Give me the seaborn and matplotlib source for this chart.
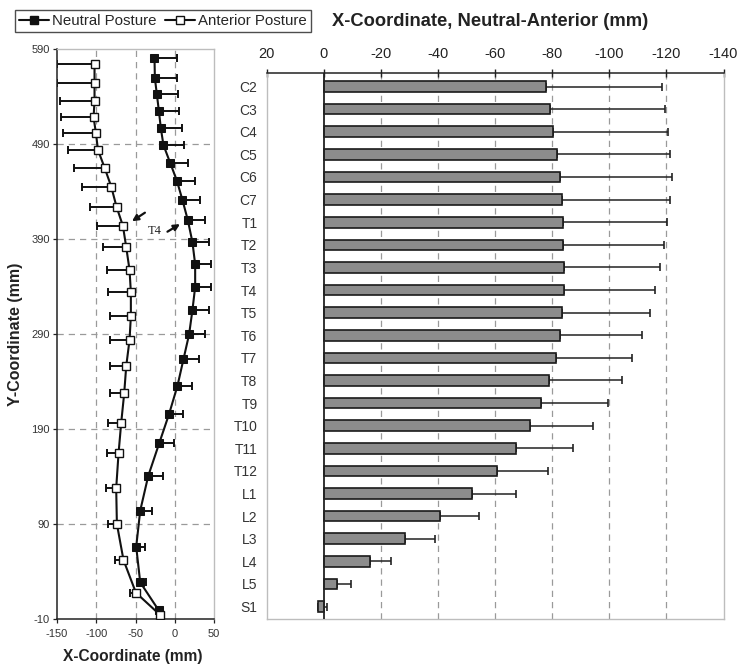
import numpy as np
import pandas as pd
import matplotlib
matplotlib.use("Agg")
import matplotlib.pyplot as plt
from matplotlib.lines import Line2D
import seaborn as sns

# ---------------- data ----------------
levels = ["C2", "C3", "C4", "C5", "C6", "C7",
          "T1", "T2", "T3", "T4", "T5", "T6", "T7", "T8", "T9", "T10", "T11", "T12",
          "L1", "L2", "L3", "L4", "L5", "S1"]

neutral_x = [-25.8, -25.3, -22.8, -20.2, -17.7, -14.4, -5.9, 2.7, 9.8, 16.7, 22.5, 26.0,
             26.0, 22.5, 18.3, 11.1, 3.5, -7.1, -19.8, -33.8, -44.0, -49.1, -44.0, -20.7]
neutral_y = [580.2, 559.2, 542.3, 524.7, 506.5, 488.9, 470.3, 451.4, 431.1, 409.7, 386.8, 363.4,
             339.5, 315.0, 289.7, 263.4, 235.6, 206.1, 175.0, 140.5, 104.0, 66.1, 28.6, -0.5]
neutral_sd = [28.5, 28.7, 27.5, 26.2, 26.7, 26.4, 22.6, 22.9, 22.5, 22.0, 21.3, 20.3,
              20.3, 21.6, 20.4, 20.3, 19.0, 18.2, 18.7, 18.2, 15.6, 11.4, 7.2, 2.0]

anterior_x = [-102.2, -102.2, -102.2, -103.4, -100.4, -97.8, -89.4, -80.9, -74.2, -66.0, -61.8, -57.6,
              -55.9, -55.9, -57.6, -61.8, -64.4, -68.2, -71.6, -74.6, -73.7, -65.3, -49.5, -18.6]
anterior_y = [573.9, 553.9, 535.6, 518.1, 501.3, 483.7, 465.1, 445.1, 424.0, 403.7, 381.3, 357.4,
              333.9, 308.9, 283.7, 256.3, 227.6, 196.6, 164.4, 127.6, 90.0, 52.1, 17.7, -5.8]
anterior_sd = [48.0, 48.0, 44.5, 41.1, 42.0, 38.2, 38.6, 37.3, 34.3, 33.1, 29.7, 28.8,
               28.5, 27.2, 24.6, 20.4, 17.8, 16.2, 14.8, 12.7, 10.7, 10.5, 8.1, 2.0]

diff_mean = [-77.7, -79.1, -80.4, -81.8, -82.7, -83.4, -83.7, -83.9, -84.0, -84.0, -83.6, -82.7,
             -81.2, -79.0, -76.1, -72.1, -67.4, -60.8, -51.8, -40.9, -28.6, -16.1, -4.6, 1.8]
diff_sd = [40.6, 40.4, 40.0, 39.4, 39.2, 37.7, 36.5, 35.3, 33.8, 32.1, 30.5, 28.7,
           26.9, 25.4, 23.6, 22.2, 19.9, 17.6, 15.5, 13.6, 10.5, 7.5, 5.0, 3.0]

left_xticks = [-150, -100, -50, 0, 50]
left_yticks = [-10, 90, 190, 290, 390, 490, 590]
right_xticks = [20, 0, -20, -40, -60, -80, -100, -120, -140]

# ---------------- style ----------------
sns.set_style("white")
plt.rcParams["font.family"] = ["Liberation Sans", "DejaVu Sans"]
plt.rcParams["axes.unicode_minus"] = False

fig = plt.figure(figsize=(7.39, 6.69), dpi=100)
axL = fig.add_axes([57 / 739, 50 / 669, 157 / 739, 570 / 669])
axR = fig.add_axes([266.5 / 739, 50 / 669, 457 / 739, 546 / 669])

grid_kw = dict(color="#9a9a9a", lw=0.9, ls=(0, (5, 4)), zorder=0)

# ---------------- left panel ----------------
n = len(levels)
zeros = np.zeros(n)
dfN = pd.DataFrame({"x": neutral_x, "y": neutral_y})
dfA = pd.DataFrame({"x": anterior_x, "y": anterior_y})

for v in [-100, -50, 0]:
    axL.axvline(v, **grid_kw)
for v in [90, 190, 290, 390, 490]:
    axL.axhline(v, **grid_kw)

axL.errorbar(neutral_x, neutral_y, xerr=[zeros, neutral_sd], fmt="none",
             ecolor="#111", elinewidth=1.4, capsize=3, capthick=1.4, zorder=2)
axL.errorbar(anterior_x, anterior_y, xerr=[anterior_sd, zeros], fmt="none",
             ecolor="#111", elinewidth=1.4, capsize=3, capthick=1.4, zorder=2)

sns.lineplot(data=dfN, x="x", y="y", sort=False, estimator=None, ax=axL,
             color="#111", lw=1.5, marker="s", markersize=6,
             markerfacecolor="#111", markeredgecolor="#111", zorder=3)
sns.lineplot(data=dfA, x="x", y="y", sort=False, estimator=None, ax=axL,
             color="#111", lw=1.5, marker="s", markersize=5.5,
             markerfacecolor="white", markeredgecolor="#111", markeredgewidth=1.0, zorder=3)

axL.set_xlim(-150, 50)
axL.set_ylim(-10, 590)
axL.set_xticks(left_xticks)
axL.set_yticks(left_yticks)
axL.tick_params(axis="both", labelsize=8, labelcolor="#333", direction="out",
                length=3, width=0.9, color="#222", pad=2)
axL.tick_params(axis="x", pad=4)
axL.tick_params(left=True, bottom=True)
for s in ["left", "bottom"]:
    axL.spines[s].set_color("#222")
    axL.spines[s].set_linewidth(1.1)
for s in ["top", "right"]:
    axL.spines[s].set_color("#bdbdbd")
    axL.spines[s].set_linewidth(1.0)

axL.set_xlabel("X-Coordinate (mm)", fontsize=11.2, fontweight="bold", color="#222")
axL.set_ylabel("Y-Coordinate (mm)", fontsize=11.5, fontweight="bold", color="#222")
axL.xaxis.set_label_coords(0.484, -0.052)
axL.yaxis.set_label_coords(-0.215, 0.5)

# T4 annotations
t4 = levels.index("T4")
axL.annotate("", xy=(anterior_x[t4] + 11.5, anterior_y[t4] + 5),
             xytext=(anterior_x[t4] + 28, anterior_y[t4] + 14),
             arrowprops=dict(arrowstyle="-|>", color="#111", lw=1.6, mutation_scale=9,
                             shrinkA=0, shrinkB=0))
axL.annotate("", xy=(neutral_x[t4] - 10, neutral_y[t4] - 4),
             xytext=(neutral_x[t4] - 26, neutral_y[t4] - 12),
             arrowprops=dict(arrowstyle="-|>", color="#111", lw=1.6, mutation_scale=9,
                             shrinkA=0, shrinkB=0))
axL.text(neutral_x[t4] - 42, neutral_y[t4] - 11, "T4", fontsize=9,
         family=["Liberation Serif", "DejaVu Serif"], ha="center", va="center", color="#222")

# ---------------- right panel ----------------
dfR = pd.DataFrame({"level": levels, "mean": diff_mean, "sd": diff_sd})
for v in [-20, -40, -60, -80, -100, -120]:
    axR.axvline(v, **grid_kw)

sns.barplot(data=dfR, x="mean", y="level", orient="h", color="#8c8c8c", saturation=1,
            edgecolor="#1a1a1a", linewidth=1.2, width=0.47, errorbar=None, ax=axR, zorder=2)
axR.errorbar(diff_mean, np.arange(n), xerr=[diff_sd, zeros], fmt="none",
             ecolor="#222", elinewidth=1.1, capsize=3, capthick=1.2, zorder=1.5)
axR.axvline(0, color="#222", lw=1.3, zorder=3)

axR.set_xlim(20, -140)
axR.set_ylim(n - 0.45, -0.6)
axR.set_xticks(right_xticks)
axR.xaxis.tick_top()
axR.tick_params(axis="x", top=True, bottom=False, direction="inout", length=6, width=1,
                color="#222", labelsize=10.5, labelcolor="#222", pad=6)
axR.tick_params(axis="y", left=False, labelsize=10, labelcolor="#333", pad=3)
axR.set_xlabel("")
axR.set_ylabel("")
axR.spines["top"].set_color("#222")
axR.spines["top"].set_linewidth(1.1)
for s in ["left", "right", "bottom"]:
    axR.spines[s].set_color("#bdbdbd")
    axR.spines[s].set_linewidth(1.0)

fig.text(490 / 739, 1 - 22 / 669, "X-Coordinate, Neutral-Anterior (mm)",
         ha="center", va="center", fontsize=13.2, fontweight="bold", color="#222")

# ---------------- legend ----------------
handles = [
    Line2D([], [], color="#111", lw=1.5, marker="s", markersize=6,
           markerfacecolor="#111", markeredgecolor="#111"),
    Line2D([], [], color="#111", lw=1.5, marker="s", markersize=5.5,
           markerfacecolor="white", markeredgecolor="#111"),
]
leg = fig.legend(handles, ["Neutral Posture", "Anterior Posture"], loc="upper left",
                 bbox_to_anchor=(15 / 739, 1 - 10 / 669), ncol=2, fontsize=10.8,
                 frameon=True, fancybox=False, edgecolor="#222", handlelength=2.0,
                 handletextpad=0.25, columnspacing=0.5, borderpad=0.25, borderaxespad=0)
leg.get_frame().set_linewidth(1.0)

fig.savefig("out.png", dpi=100)
